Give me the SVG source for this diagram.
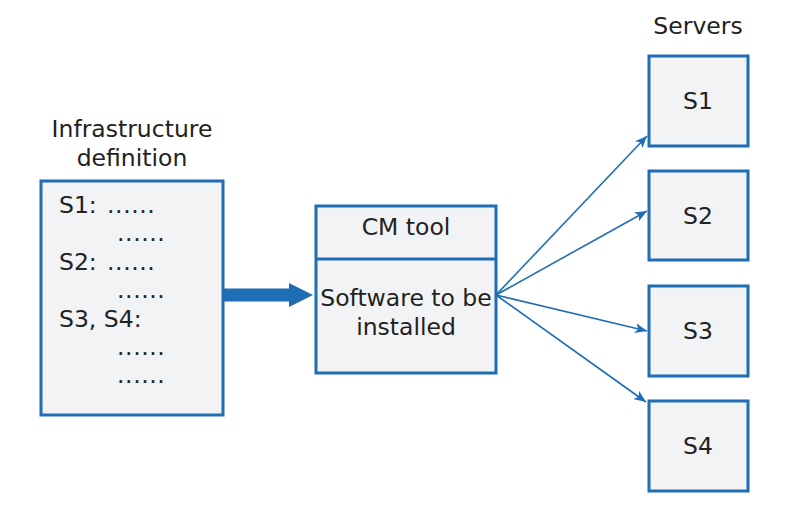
<svg xmlns="http://www.w3.org/2000/svg" width="785" height="517" viewBox="0 0 785 517">
<style>
.box{fill:#f2f3f5;stroke:#1f6db4;stroke-width:3}
.t{font-family:"DejaVu Sans",Verdana,sans-serif;font-size:23.5px;fill:#222}
.c{text-anchor:middle}
.d{letter-spacing:0.6px}
.ln{stroke:#1f6db4;stroke-width:1.6;fill:none}
.div{stroke:#1f6db4;stroke-width:3}
</style>
<defs>
<marker id="ah" viewBox="0 0 12 10" refX="12" refY="5" markerWidth="12" markerHeight="10" markerUnits="userSpaceOnUse" orient="auto">
<path d="M0,0 L12,5 L0,10 L3,5 Z" fill="#1f6db4"/>
</marker>
</defs>
<rect width="785" height="517" fill="#fff"/>
<g id="infra">
<text class="t c" x="132" y="137">Infrastructure</text>
<text class="t c" x="132" y="166">definition</text>
<rect class="box" x="41" y="181" width="182" height="234"/>
<text class="t" x="59" y="213">S1: <tspan class="d" x="107">......</tspan></text>
<text class="t d" x="117" y="241">......</text>
<text class="t" x="59" y="270">S2: <tspan class="d" x="107">......</tspan></text>
<text class="t d" x="117" y="298">......</text>
<text class="t" x="59" y="327">S3, S4:</text>
<text class="t d" x="117" y="355">......</text>
<text class="t d" x="117" y="383">......</text>
</g>
<g id="cm">
<rect class="box" x="316" y="206" width="180" height="167"/>
<line class="div" x1="316" y1="259" x2="496" y2="259"/>
<text class="t c" x="406" y="235">CM tool</text>
<text class="t c" x="406" y="306">Software to be</text>
<text class="t c" x="406" y="335">installed</text>
</g>
<g id="servers">
<text class="t c" x="698" y="34">Servers</text>
<g id="s1"><rect class="box" x="649" y="56" width="99" height="90"/><text class="t c" x="698" y="109">S1</text></g>
<g id="s2"><rect class="box" x="649" y="171" width="99" height="89"/><text class="t c" x="698" y="224">S2</text></g>
<g id="s3"><rect class="box" x="649" y="286" width="99" height="90"/><text class="t c" x="698" y="339">S3</text></g>
<g id="s4"><rect class="box" x="649" y="401" width="99" height="90"/><text class="t c" x="698" y="454">S4</text></g>
</g>
<g id="connectors">
<path d="M223,288.5 H289 V283 L313,295 L289,307 V301.5 H223 Z" fill="#1f6db4"/>
<line class="ln" x1="496" y1="295" x2="647" y2="136" marker-end="url(#ah)"/>
<line class="ln" x1="496" y1="295" x2="647" y2="211" marker-end="url(#ah)"/>
<line class="ln" x1="496" y1="295" x2="647" y2="331" marker-end="url(#ah)"/>
<line class="ln" x1="496" y1="295" x2="646" y2="402" marker-end="url(#ah)"/>
</g>
</svg>
